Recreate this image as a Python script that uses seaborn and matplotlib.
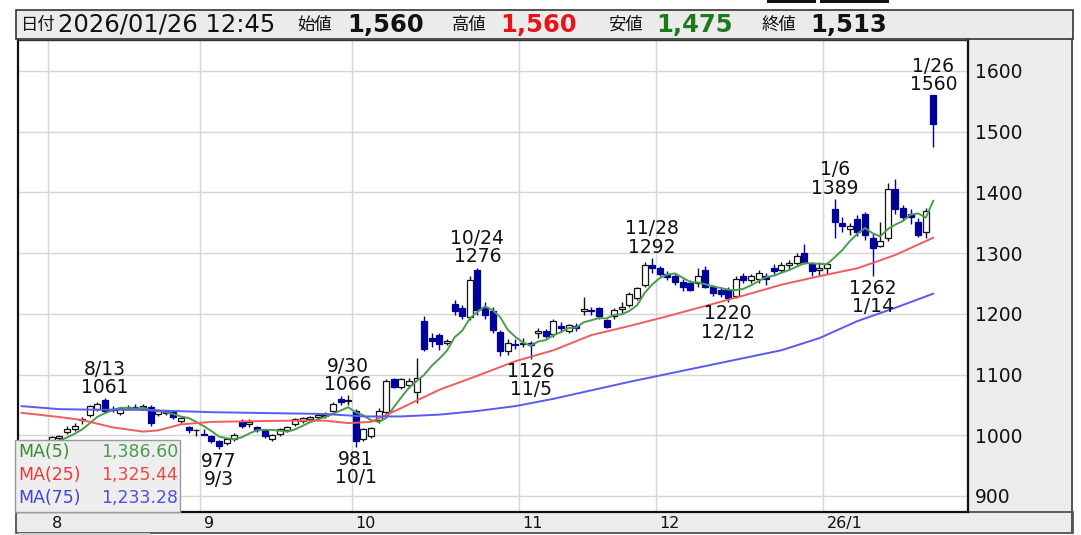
import numpy as np
import pandas as pd
import matplotlib
matplotlib.use("Agg")
import matplotlib.pyplot as plt
import matplotlib.transforms as mtrans
from matplotlib.patches import Rectangle
import seaborn as sns

# ---------------- data ----------------
holidays = ["2025-08-11", "2025-09-15", "2025-09-23", "2025-10-13", "2025-11-03",
            "2025-11-24", "2025-12-31", "2026-01-01", "2026-01-02", "2026-01-12"]
dates = [d for d in pd.bdate_range("2025-07-28", "2026-01-26")
         if d.strftime("%Y-%m-%d") not in holidays]

opens = [990, 985, 983, 986, 993, 996, 1005, 1010, 1025, 1034,
         1044, 1058, 1044, 1036, 1046, 1047, 1046, 1046, 1035, 1040,
         1038, 1024, 1014, 1008, 1002, 998, 990, 987, 994, 1024,
         1018, 1014, 1008, 994, 1002, 1008, 1018, 1024, 1027, 1030,
         1032, 1040, 1060, 1056, 1040, 994, 998, 1025, 1038, 1092,
         1080, 1082, 1072, 1188, 1160, 1165, 1152, 1216, 1210, 1194,
         1272, 1212, 1205, 1170, 1138, 1150, 1150, 1152, 1168, 1172,
         1166, 1180, 1172, 1180, 1205, 1206, 1210, 1190, 1196, 1208,
         1215, 1226, 1247, 1280, 1275, 1265, 1262, 1252, 1250, 1250,
         1272, 1245, 1240, 1240, 1230, 1262, 1256, 1258, 1262, 1275,
         1272, 1280, 1284, 1300, 1282, 1272, 1275, 1372, 1350, 1340,
         1356, 1365, 1325, 1312, 1325, 1405, 1375, 1365, 1352, 1335,
         1560]
highs = [993, 989, 988, 992, 999, 1001, 1016, 1020, 1030, 1050,
         1055, 1061, 1048, 1047, 1050, 1051, 1052, 1050, 1043, 1042,
         1041, 1030, 1016, 1010, 1010, 1000, 992, 996, 1003, 1026,
         1026, 1016, 1010, 1002, 1012, 1016, 1028, 1030, 1032, 1036,
         1038, 1055, 1064, 1066, 1044, 1012, 1014, 1045, 1093, 1095,
         1094, 1094, 1127, 1196, 1168, 1168, 1158, 1222, 1214, 1262,
         1276, 1220, 1212, 1174, 1158, 1158, 1160, 1156, 1176, 1175,
         1192, 1186, 1184, 1185, 1228, 1212, 1212, 1192, 1210, 1220,
         1236, 1245, 1285, 1292, 1278, 1270, 1265, 1258, 1255, 1275,
         1278, 1248, 1245, 1245, 1262, 1268, 1266, 1272, 1268, 1282,
         1285, 1288, 1300, 1315, 1285, 1285, 1285, 1389, 1360, 1350,
         1362, 1368, 1333, 1352, 1415, 1422, 1380, 1372, 1358, 1375,
         1560]
lows = [982, 978, 977, 981, 990, 992, 1002, 1007, 1018, 1030,
        1040, 1037, 1038, 1034, 1042, 1043, 1043, 1016, 1032, 1033,
        1026, 1020, 1004, 998, 1000, 988, 977, 984, 990, 1012,
        1014, 1005, 995, 990, 999, 1005, 1016, 1020, 1022, 1026,
        1028, 1038, 1050, 1050, 981, 990, 995, 1020, 1035, 1078,
        1076, 1078, 1053, 1138, 1145, 1140, 1148, 1198, 1192, 1190,
        1198, 1192, 1168, 1130, 1132, 1142, 1145, 1126, 1160, 1160,
        1162, 1172, 1168, 1172, 1198, 1198, 1192, 1176, 1192, 1200,
        1212, 1222, 1245, 1268, 1262, 1255, 1248, 1238, 1238, 1245,
        1242, 1230, 1228, 1220, 1226, 1250, 1250, 1250, 1248, 1266,
        1268, 1272, 1280, 1282, 1262, 1264, 1265, 1325, 1335, 1330,
        1328, 1322, 1262, 1310, 1320, 1365, 1355, 1348, 1326, 1325,
        1475]
closes = [985, 983, 986, 990, 997, 999, 1010, 1016, 1026, 1048,
          1052, 1040, 1041, 1045, 1047, 1046, 1048, 1020, 1040, 1036,
          1030, 1028, 1008, 1008, 1001, 990, 982, 994, 1001, 1016,
          1022, 1008, 998, 1000, 1010, 1014, 1026, 1028, 1030, 1033,
          1034, 1052, 1054, 1058, 990, 1010, 1012, 1040, 1090, 1080,
          1092, 1090, 1094, 1142, 1155, 1150, 1156, 1204, 1196, 1256,
          1206, 1198, 1174, 1138, 1152, 1148, 1152, 1148, 1172, 1164,
          1188, 1177, 1182, 1176, 1208, 1204, 1196, 1178, 1206, 1212,
          1232, 1242, 1280, 1276, 1265, 1260, 1252, 1245, 1240, 1262,
          1245, 1234, 1232, 1226, 1258, 1256, 1262, 1268, 1258, 1270,
          1280, 1284, 1296, 1286, 1270, 1275, 1282, 1352, 1345, 1345,
          1335, 1330, 1308, 1320, 1405, 1372, 1360, 1360, 1330, 1370,
          1513]

# moving averages (index of candle, value)
ma25_idx = [0, 5, 8, 12, 16, 18, 21, 25, 30, 35, 40, 43, 46, 50, 55, 60, 65, 70,
            75, 80, 85, 90, 95, 100, 105, 110, 115, 120]
ma25_val = [1037, 1030, 1025, 1013, 1006, 1008, 1018, 1022, 1023, 1024, 1024, 1020,
            1022, 1045, 1075, 1098, 1122, 1140, 1165, 1180, 1196, 1213, 1230, 1248,
            1262, 1275, 1297, 1325.44]
ma75_idx = [0, 5, 10, 15, 20, 25, 30, 35, 40, 45, 50, 55, 60, 65, 70, 75, 80, 85,
            90, 95, 100, 105, 110, 115, 120]
ma75_val = [1048, 1043, 1042, 1042, 1040, 1038, 1037, 1036, 1035, 1031, 1031, 1034,
            1040, 1048, 1060, 1074, 1088, 1101, 1114, 1127, 1140, 1160, 1188, 1210,
            1233.28]

ann_labels = ["8/13", "9/3", "9/30", "10/1", "10/24", "11/5", "11/28", "12/12", "1/6", "1/14", "1/26"]
ann_values = [1061, 977, 1066, 981, 1276, 1126, 1292, 1220, 1389, 1262, 1560]
ann_side = ["high", "low", "high", "low", "high", "low", "high", "low", "high", "low", "high"]

y_ticks = [900, 1000, 1100, 1200, 1300, 1400, 1500, 1600]
month_labels = ["8", "9", "10", "11", "12", "26/1"]

legend_names = ["MA(5)", "MA(25)", "MA(75)"]
legend_values = ["1,386.60", "1,325.44", "1,233.28"]

header_items = [("日付", "label"), ("2026/01/26 12:45", "date"), ("始値", "label"),
                ("1,560", "open"), ("高値", "label"), ("1,560", "high"),
                ("安値", "label"), ("1,475", "low"), ("終値", "label"), ("1,513", "close")]

# ---------------- style ----------------
sns.set_theme(style="white")
plt.rcParams["font.family"] = ["DejaVu Sans", "Noto Sans CJK JP"]

W, H = 1081, 535
fig = plt.figure(figsize=(W / 100, H / 100), dpi=100)
fig.patch.set_facecolor("white")


def fx(x):
    return x / W


def fy(y):
    return 1 - y / H


UP_EDGE = "#111111"
DOWN = "#00009c"
C5, C25, C75 = "#4c9c4c", "#f25c5c", "#5a5af2"

ax = fig.add_axes([fx(18), fy(512), fx(968) - fx(18), fy(40) - fy(512)])
ax.set_facecolor("white")

n = len(dates)
idx = np.arange(n)
o = np.array(opens, float)
h = np.array(highs, float)
l = np.array(lows, float)
c = np.array(closes, float)
up = c >= o

# grid
month_pos = []
seen = set()
for i, d in enumerate(dates):
    key = (d.year, d.month)
    if key not in seen:
        seen.add(key)
        if i > 0:
            month_pos.append(i - 0.5)
for yv in y_ticks:
    ax.axhline(yv, color="#d6d6d6", lw=1.0, zorder=0)
for xp in month_pos:
    ax.axvline(xp, color="#d6d6d6", lw=1.0, zorder=0)

# candles
wick_colors = np.where(up, UP_EDGE, DOWN)
ax.vlines(idx, l, h, colors=wick_colors, lw=1.0, zorder=2)
bottoms = np.minimum(o, c)
heights = np.maximum(np.abs(c - o), 1.2)
ax.bar(idx[up], heights[up], bottom=bottoms[up], width=0.78, color="white",
       edgecolor=UP_EDGE, linewidth=0.9, zorder=3)
ax.bar(idx[~up], heights[~up], bottom=bottoms[~up], width=0.78, color=DOWN,
       edgecolor=DOWN, linewidth=0.9, zorder=3)

# moving averages
ma5 = pd.Series(c).rolling(5).mean()
sns.lineplot(x=idx, y=ma5.values, ax=ax, color=C5, linewidth=1.4, zorder=4,
             estimator=None, legend=False)
sns.lineplot(x=ma25_idx, y=ma25_val, ax=ax, color=C25, linewidth=1.4, zorder=4,
             estimator=None, legend=False)
sns.lineplot(x=ma75_idx, y=ma75_val, ax=ax, color=C75, linewidth=1.4, zorder=4,
             estimator=None, legend=False)

# annotations
date_keys = [f"{d.month}/{d.day}" for d in dates]
for lab, val, side in zip(ann_labels, ann_values, ann_side):
    i = date_keys.index(lab)
    if side == "high":
        ax.annotate(f"{lab}\n{val}", xy=(i, val), xytext=(0, 1), textcoords="offset points",
                    ha="center", va="bottom", fontsize=13.5, linespacing=0.95,
                    color="#111111", zorder=6)
    else:
        ax.annotate(f"{val}\n{lab}", xy=(i, val), xytext=(0, -2), textcoords="offset points",
                    ha="center", va="top", fontsize=13.5, linespacing=0.95,
                    color="#111111", zorder=6)

ax.set_xlim(-0.45, 124.55)
ax.set_ylim(873.6, 1651)

ax.yaxis.tick_right()
ax.set_yticks(y_ticks)
ax.set_yticklabels([str(v) for v in y_ticks])
ax.tick_params(axis="y", length=0, pad=5, labelsize=13.5, labelcolor="#111111")
ax.set_xticks(month_pos)
ax.set_xticklabels(month_labels)
ax.tick_params(axis="x", length=0, pad=3, labelsize=11.5, labelcolor="#111111")
shift = mtrans.ScaledTranslation(3.5 / 100, 0, fig.dpi_scale_trans)
for t in ax.get_xticklabels():
    t.set_horizontalalignment("left")
    t.set_transform(t.get_transform() + shift)
ax.set_xlabel("")
ax.set_ylabel("")
for s in ["left", "right", "bottom"]:
    ax.spines[s].set_color("#111111")
    ax.spines[s].set_linewidth(1.6)
ax.spines["top"].set_color("#333333")
ax.spines["top"].set_linewidth(1.0)

# ---------------- surrounding panels ----------------
def frect(x0, y0, x1, y1, **kw):
    r = Rectangle((fx(x0), fy(y1)), fx(x1) - fx(x0), fy(y0) - fy(y1),
                  transform=fig.transFigure, **kw)
    fig.add_artist(r)
    return r

# right axis panel and bottom strip (behind the axes' tick labels)
frect(968, 39, 1073, 512, facecolor="#ececec", edgecolor="none", zorder=-1)
frect(16, 512, 1073, 533, facecolor="#ececec", edgecolor="#444444", lw=1.2, zorder=-1)
frect(1071, 39, 1073, 533, facecolor="#555555", edgecolor="none", zorder=-1)
frect(18, 533, 150, 535, facecolor="#cccccc", edgecolor="none", zorder=-1)

# header bar
frect(16, 10, 1073, 39, facecolor="#ebebeb", edgecolor="#333333", lw=1.2, zorder=1)
frect(767, 0, 816, 3, facecolor="#111111", edgecolor="none", zorder=1)
frect(820, 0, 889, 3, facecolor="#111111", edgecolor="none", zorder=1)

header_x = [21, 58, 297, 347, 452, 500, 608, 656, 762, 810]
styles = {
    "label": dict(fontsize=12.5, color="#111111", fontweight="normal"),
    "date": dict(fontsize=17.5, color="#111111", fontweight="normal"),
    "open": dict(fontsize=17.5, color="#111111", fontweight="bold"),
    "high": dict(fontsize=17.5, color="#e8141c", fontweight="bold"),
    "low": dict(fontsize=17.5, color="#1c7a1c", fontweight="bold"),
    "close": dict(fontsize=17.5, color="#111111", fontweight="bold"),
}
for (txt, kind), xpos in zip(header_items, header_x):
    fam = ["Noto Sans CJK JP", "DejaVu Sans"] if kind == "label" else ["DejaVu Sans"]
    fig.text(fx(xpos), fy(25), txt, ha="left", va="center", family=fam,
             zorder=3, **styles[kind])

# MA legend box
frect(15, 440, 180, 512, facecolor="#eeeeee", edgecolor="#9a9a9a", lw=1.0, zorder=2)
leg_colors = [("#3a8a3a", "#4c9c4c"), ("#e83a3a", "#e84a4a"), ("#4444d4", "#5050dc")]
for k, (nm, vv) in enumerate(zip(legend_names, legend_values)):
    yy = 452 + k * 23
    fig.text(fx(18), fy(yy), nm, ha="left", va="center", fontsize=12.5,
             color=leg_colors[k][0], zorder=3)
    fig.text(fx(178), fy(yy), vv, ha="right", va="center", fontsize=12.5,
             color=leg_colors[k][1], zorder=3)

fig.savefig("out.png", dpi=100)
